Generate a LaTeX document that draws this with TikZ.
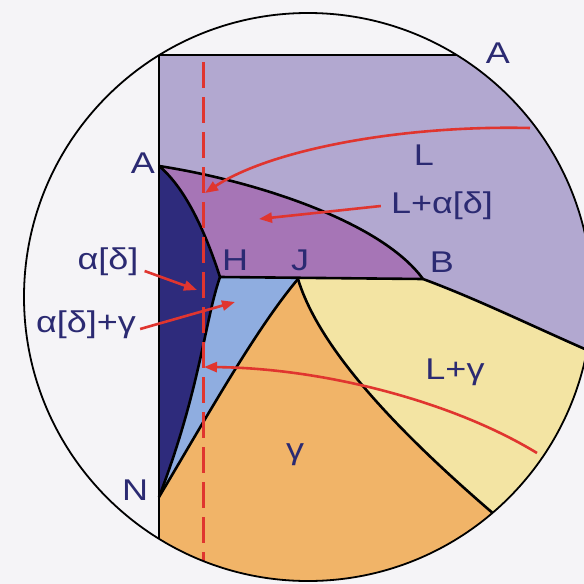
\documentclass[tikz,border=0pt]{standalone}
\usepackage{fontspec}
\setmainfont{Liberation Sans}[FakeStretch=1.2]
\usetikzlibrary{arrows.meta}
\definecolor{paper}{HTML}{F5F4F7}
\definecolor{liqcol}{HTML}{B2A8D0}
\definecolor{ldcol}{HTML}{A675B6}
\definecolor{deltacol}{HTML}{2E2B7C}
\definecolor{dgcol}{HTML}{8FADE0}
\definecolor{gamcol}{HTML}{F1B468}
\definecolor{lgcol}{HTML}{F3E4A3}
\definecolor{inkblue}{HTML}{2B2A72}
\definecolor{redline}{HTML}{E0352F}

\begin{document}
\begin{tikzpicture}[x=1pt, y=-1pt,
  lbl/.style={text=inkblue, font=\fontsize{30}{32}\selectfont, inner sep=0pt},
  bound/.style={draw=black, line width=2.6pt, line join=round},
  pointer/.style={draw=redline, line width=2.6pt, -{Triangle[length=13pt,width=10pt]}}
]
  \fill[paper] (0,0) rectangle (584,584);
  \useasboundingbox (0,0) rectangle (584,584);

  % corner points of the diagram
  \coordinate (A) at (159,166);
  \coordinate (H) at (220,277);
  \coordinate (J) at (298,279);
  \coordinate (B) at (423,279);
  \coordinate (N) at (159,497);

  \begin{scope}
    \clip (308,297) circle (284);
    % phase fields
    \fill[liqcol] (159,55) rectangle (610,610);
    \fill[lgcol] (J) -- (B) .. controls (480,300) and (540,330) .. (610,360)
      -- (610,610) -- (159,610) -- (N) -- cycle;
    \fill[gamcol] (N) .. controls (205,420) and (255,330) .. (J)
      .. controls (318,345) and (390,425) .. (495,515) -- (545,610) -- (159,610) -- cycle;
    \fill[dgcol] (H) -- (J) .. controls (255,330) and (205,420) .. (N)
      .. controls (200,390) and (205,320) .. (H) -- cycle;
    \fill[deltacol] (A) .. controls (188,190) and (208,240) .. (H)
      .. controls (205,320) and (200,390) .. (N) -- cycle;
    \fill[ldcol] (A) .. controls (250,180) and (380,220) .. (B) -- (H)
      .. controls (208,240) and (188,190) .. (A) -- cycle;

    % boundaries
    \draw[bound] (480,55) -- (159,55) -- (159,610);
    \draw[bound] (A) .. controls (250,180) and (380,220) .. (B);
    \draw[bound] (A) .. controls (188,190) and (208,240) .. (H);
    \draw[bound] (H) -- (B);
    \draw[bound] (H) .. controls (205,320) and (200,390) .. (N);
    \draw[bound] (J) .. controls (255,330) and (205,420) .. (N);
    \draw[bound] (J) .. controls (318,345) and (390,425) .. (495,515) -- (545,610);
    \draw[bound] (B) .. controls (480,300) and (540,330) .. (610,360);

    % composition line
    \draw[redline, line width=3pt, dash pattern=on 26pt off 9pt] (203,62) -- (203,600);
  \end{scope}
  \draw[line width=1.8pt] (308,297) circle (284);

  % labels
  \node[lbl] (atop) at (498,53) {A};
  \node[lbl] (lliq) at (424,155) {L};
  \node[lbl] (aleft) at (143,163) {A};
  \node[lbl] (ldlbl) at (442,206) {L+α[δ]};
  \node[lbl] (dlbl) at (108,262) {α[δ]};
  \node[lbl] (hlbl) at (235,260) {H};
  \node[lbl] (jlbl) at (300,260) {J};
  \node[lbl] (blbl) at (442,262) {B};
  \node[lbl] (dglbl) at (86,325) {α[δ]+γ};
  \node[lbl] (lglbl) at (455,372) {L+γ};
  \node[lbl] (glbl) at (295,455) {γ};
  \node[lbl] (nlbl) at (135,490) {N};

  % pointers
  \coordinate (ldtip) at (259,219);
  \coordinate (dtip) at (197,290);
  \coordinate (dgtip) at (235,302);
  \coordinate (liqstart) at (530,128);
  \coordinate (liqtip) at (205,193);
  \coordinate (lgstart) at (537,453);
  \coordinate (lgtip) at (204,367);
  \draw[pointer] ([xshift=-10pt]ldlbl.west) -- (ldtip);
  \draw[pointer] ([shift={(6pt,-9pt)}]dlbl.east) -- (dtip);
  \draw[pointer] ([shift={(4pt,-4pt)}]dglbl.east) -- (dgtip);
  \draw[pointer] (liqstart) .. controls (400,125) and (270,150) .. (liqtip);
  \draw[pointer] (lgstart) .. controls (450,400) and (320,368) .. (lgtip);
\end{tikzpicture}
\end{document}
